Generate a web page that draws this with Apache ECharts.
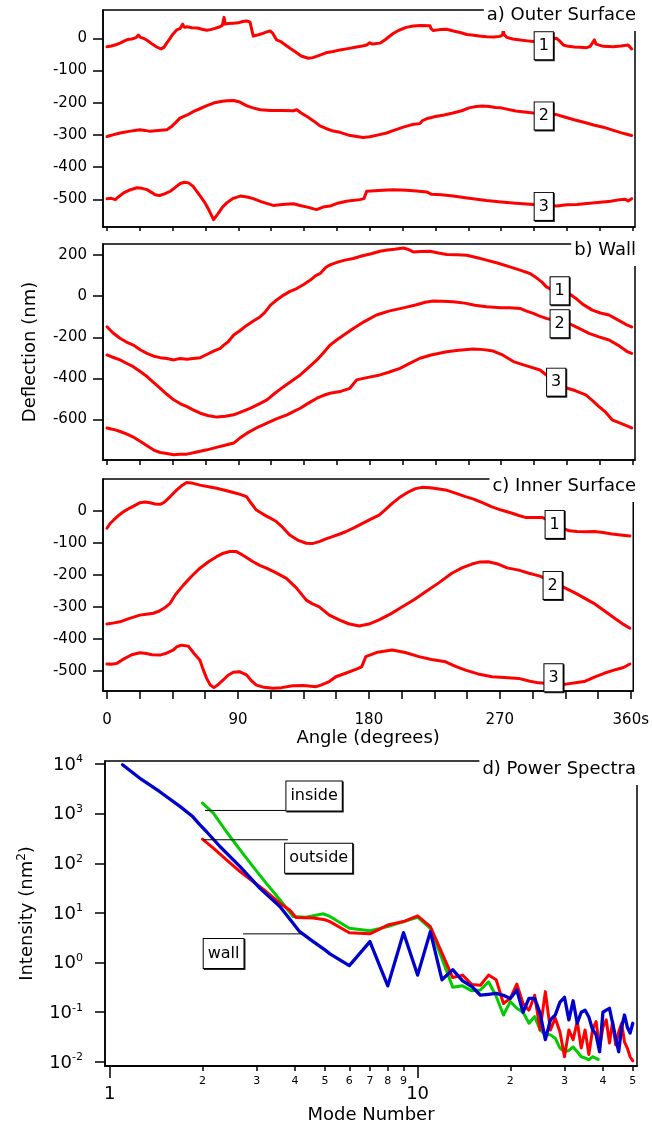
<!DOCTYPE html>
<html><head><meta charset="utf-8">
<script src="https://cdn.jsdelivr.net/npm/echarts@6/dist/echarts.min.js"></script>
<style>html,body{margin:0;padding:0;background:#fff}#c{width:652px;height:1130px}</style>
</head><body><div id="c"></div>
<script>
// ---------- Panel a) Outer Surface : [angle (deg), deflection (nm)] ----------
const outer1 = [[0,-26],[3,-24],[6,-20],[9,-15],[12,-8],[14,-4],[17,-2],[20,2],[21.4,10],[23,3],[25,0],[27.4,-6],[31,-18],[34,-27],[37,-33],[39,-28],[41,-14],[43.2,0],[45,12],[47.7,26],[50,30],[51.8,44],[53,34],[55,36],[58,33],[62,32],[65,28],[68.3,25],[71,27],[74,31],[77.4,36],[79,40],[80.2,65],[81,44],[83,46],[86.5,47],[90,48],[93,52],[95.7,54],[98,50],[99,30],[100.2,7],[103,10],[106,14],[109,19],[111.7,23],[113.5,16],[116.2,-5],[119,-10],[122,-20],[125.4,-31],[129,-42],[133,-55],[137.9,-62],[141,-60],[145.9,-52],[150,-45],[155,-41],[159.6,-36],[165,-32],[170,-28],[174,-25],[177.9,-21],[180,-14],[182,-18],[187,-15],[191,-3],[196,15],[200,25],[205,34],[209.8,38],[215,40],[221.3,39],[222,30],[223.6,24],[228,27],[232.7,28],[238,22],[242,18],[246.4,12],[250,10],[255,7],[260,5],[265,4],[269,6],[271,10],[271.5,26],[272,12],[273.8,3],[278,-2],[283,-5],[288,-8],[292,-10],[296,-7],[300,-4],[304,-2],[308,0],[310,-8],[312.6,-21],[316,-25],[320,-27],[324,-28],[328.6,-29],[331,-25],[333.9,-5],[335,-18],[335.5,-24],[340,-25],[346.9,-26],[352,-24],[357,-21],[357.5,-27],[359.4,-33]];
const outer2 = [[0,-305],[4,-300],[8.9,-294],[15,-289],[22.6,-284],[26,-286],[29.5,-289],[35,-286],[41,-284],[44,-275],[47,-262],[50,-248],[55,-238],[59.4,-227],[64,-218],[68,-210],[73,-201],[78,-196],[82,-194],[86.8,-193],[91,-198],[95.9,-210],[100,-216],[105,-222],[112,-224],[120,-224],[127.8,-225],[130,-222],[133,-232],[137,-243],[142,-258],[145.9,-272],[150,-280],[155,-288],[159.6,-292],[165,-300],[170,-304],[175.5,-308],[180,-306],[186,-300],[191.5,-294],[197,-285],[203,-276],[209,-268],[214.3,-265],[216,-256],[218.8,-250],[225,-243],[231,-238],[237,-232],[243,-225],[248,-216],[253,-212],[257,-210],[262,-212],[266,-215],[270,-216],[273.8,-220],[280,-226],[286,-229],[292,-232],[300,-234],[308,-237],[314,-245],[320,-253],[328.6,-263],[334,-270],[340,-276],[346.9,-286],[352,-293],[356,-298],[359.4,-302]];
const outer3 = [[0,-498],[3,-497],[5.7,-501],[8,-492],[11.4,-480],[15,-472],[20.5,-464],[24,-466],[27.4,-470],[31,-480],[33,-486],[36,-488],[39,-484],[43.4,-475],[47,-462],[50.2,-451],[53,-447],[55.9,-449],[59,-460],[61,-472],[63.9,-490],[67,-510],[70,-535],[73,-563],[76,-545],[79,-525],[82,-511],[86,-498],[91.2,-490],[96,-493],[100.2,-498],[106,-508],[113.9,-519],[120,-516],[127.6,-514],[133,-520],[138,-525],[143.5,-532],[148,-524],[152.8,-521],[158,-512],[164,-506],[168,-504],[173.3,-501],[176,-498],[177.9,-475],[186,-473],[196,-470],[205,-472],[212,-474],[219,-477],[222,-484],[229,-486],[237,-490],[248,-497],[260,-504],[270,-508],[280,-512],[292,-516],[300,-518],[308,-521],[315,-517],[322,-516],[328.6,-513],[338,-509],[345,-506],[351.4,-501],[355,-500],[357,-505],[359.4,-498]];

// ---------- Panel b) Wall ----------
const wall1 = [[0,-149],[4,-178],[8.9,-205],[13,-222],[18,-238],[23,-262],[27.4,-278],[32,-292],[36.5,-299],[41,-303],[45.7,-310],[50,-303],[54.8,-307],[59,-303],[63.9,-299],[68,-285],[73,-267],[77.6,-254],[80,-238],[83,-222],[86.8,-189],[91,-168],[95.9,-141],[100,-122],[105,-100],[108,-80],[112,-44],[116,-20],[121,5],[125,22],[130,37],[135,58],[139.3,78],[143,100],[146,110],[150,140],[152.8,152],[158,165],[163,175],[168.7,183],[175,196],[181,206],[187,218],[192,224],[197,228],[203,234],[206,228],[209.8,215],[215,217],[221.3,218],[227,210],[232.7,202],[240,201],[246.4,199],[253,188],[260,175],[268,160],[276,142],[283,126],[289.7,110],[294,90],[298,68],[301,45],[305,30],[310,22],[316.5,13],[321,-10],[326,-40],[332.5,-68],[338,-82],[343.9,-92],[349,-112],[355.3,-137],[359.4,-150]];
const wall2 = [[0,-286],[4,-297],[8.9,-310],[13,-325],[18,-343],[23,-368],[27.4,-391],[32,-420],[36.5,-448],[41,-477],[45.7,-504],[50,-522],[54.8,-537],[59,-553],[63.9,-569],[69,-580],[75.3,-588],[81,-584],[86.8,-577],[92,-562],[98,-545],[104,-525],[109.6,-504],[115,-472],[121,-440],[127,-410],[132.4,-383],[138,-347],[143.8,-310],[148,-278],[152.8,-238],[157.3,-213],[163,-185],[168.7,-157],[176,-125],[184.6,-92],[193,-73],[203,-57],[212,-42],[218,-30],[223.6,-24],[230,-25],[237,-27],[245,-34],[252,-44],[260,-52],[270,-56],[276,-57],[283,-60],[287,-72],[292,-84],[296,-96],[301,-108],[306,-118],[311,-126],[316.5,-133],[322,-152],[330.2,-181],[337,-198],[343.9,-213],[350,-238],[356,-268],[359.4,-278]];
const wall3 = [[0,-641],[3,-646],[5.7,-650],[9,-658],[13.7,-671],[18,-685],[22.9,-707],[28,-730],[32,-748],[36.5,-760],[41,-765],[45.7,-771],[50,-768],[54.8,-768],[60,-760],[68.5,-747],[75,-735],[82.2,-722],[86.8,-714],[91,-690],[95.9,-666],[102,-642],[109.6,-617],[116,-597],[123.3,-577],[128,-560],[132.4,-545],[138,-520],[143.8,-496],[148,-483],[152.8,-472],[159.6,-464],[166.4,-448],[171,-407],[178,-396],[187,-383],[193,-370],[200.7,-351],[207,-328],[214.4,-302],[222,-286],[232.7,-270],[241,-263],[251,-257],[258,-260],[264.6,-267],[271,-286],[278.4,-318],[287,-338],[296.6,-359],[303,-395],[310,-430],[315.4,-448],[321,-460],[328,-480],[333,-510],[337,-537],[341,-560],[346,-601],[352,-618],[357.5,-634],[359.4,-640]];

// ---------- Panel c) Inner Surface ----------
const inner1 = [[0,-54],[2,-40],[4.6,-28],[8,-14],[11.4,-2],[16,10],[22.8,26],[26,28],[29.7,26],[33,22],[36.5,21],[39,26],[41,34],[44,48],[48,66],[51,78],[54.8,89],[58,88],[63.9,81],[69,77],[75.3,71],[81,65],[86.8,58],[91,53],[95.9,45],[99,25],[102.7,3],[106,-6],[109.6,-16],[113,-24],[116.4,-33],[120,-48],[125.6,-75],[131,-91],[137,-101],[141,-102],[145.9,-96],[150,-88],[155,-80],[160,-72],[164,-65],[170,-52],[176,-38],[181,-26],[187,-13],[191,3],[196,24],[201,42],[207.4,60],[212,70],[216.6,74],[222,73],[227,70],[232.7,66],[240,55],[246.4,45],[252,37],[258,26],[264.6,13],[271,3],[278.4,-7],[283,-14],[287.5,-20],[293,-20],[299,-20],[304,-30],[310,-48],[317.8,-62],[323,-64],[329,-65],[335,-64],[341,-67],[347,-72],[353,-75],[359.4,-78]];
const inner2 = [[0,-354],[4,-351],[8.9,-347],[15,-337],[22.6,-326],[27,-323],[31.9,-320],[36,-313],[40,-302],[43.4,-289],[47,-262],[52.5,-232],[58,-205],[63.9,-179],[70,-158],[75.3,-143],[80,-132],[84.5,-127],[89,-127],[94,-140],[100.4,-159],[105,-170],[109.6,-179],[116,-193],[123.3,-211],[130,-240],[137,-279],[141,-290],[145.9,-300],[152.8,-326],[159.6,-341],[166,-353],[173.3,-360],[180,-354],[187,-341],[195,-322],[203,-300],[211,-278],[219,-253],[228,-225],[237,-195],[244,-178],[250.8,-166],[256,-160],[262,-159],[268,-165],[275,-178],[283,-185],[290,-195],[297.6,-204],[306,-222],[315.4,-242],[322,-257],[334.6,-289],[342,-313],[350.6,-341],[355,-355],[359.4,-367]];
const inner3 = [[0,-479],[3,-480],[6.8,-477],[12,-462],[17,-450],[22.6,-444],[27,-446],[31,-450],[36.5,-451],[41,-445],[45.7,-435],[48,-425],[51.3,-420],[55.9,-423],[60,-447],[63.9,-467],[66,-495],[68.5,-524],[71,-545],[73.5,-553],[76,-545],[79.9,-529],[83,-515],[86.8,-505],[91,-503],[95.9,-513],[99,-530],[102.7,-545],[108,-552],[114,-555],[120,-553],[127.6,-547],[135,-546],[143.8,-550],[147,-545],[152.8,-534],[157.3,-519],[164,-508],[171,-496],[175,-488],[177.9,-456],[186,-442],[196,-435],[205,-443],[214.4,-456],[223,-465],[232.7,-472],[240,-487],[246.4,-498],[255,-510],[264.6,-519],[273,-521],[283,-524],[290,-532],[296.6,-538],[306,-541],[315.4,-542],[322,-538],[328,-534],[335,-520],[341.7,-508],[350,-496],[355,-490],[359.4,-479]];

// ---------- Panel d) Power Spectra : [mode number, intensity (nm^2)] ----------
const specWall = [[1.1,9680],[1.25,5220],[1.45,2800],[1.69,1400],[1.85,900],[1.96,600],[2.06,437],[2.28,218],[2.65,86],[3.07,31.6],[3.57,13.5],[4.14,4.2],[4.58,2.65],[5,1.8],[5.19,1.5],[6,0.87],[7,2.65],[8,0.34],[9,4.0],[10,0.56],[11,4.2],[12,0.45],[13,0.72],[14,0.43],[15,0.33],[16,0.22],[17,0.23],[18,0.24],[19,0.22],[20,0.19],[21,0.28],[22,0.1],[23,0.19],[24,0.19],[25,0.095],[26,0.028],[27,0.07],[28,0.088],[29,0.16],[30,0.2],[31,0.07],[32,0.17],[33,0.06],[34,0.1],[35,0.11],[36,0.08],[37,0.045],[38,0.035],[39,0.016],[40,0.1],[41,0.11],[42,0.12],[43,0.06],[44,0.03],[45,0.016],[46,0.05],[47,0.088],[48,0.05],[49,0.038],[50,0.06]];
const specOutside = [[2,307],[2.17,202],[2.39,118],[2.65,68],[2.92,43],[3.22,27],[3.57,15.7],[3.84,11.5],[4.03,8.1],[4.58,7.9],[5,7.3],[5.19,6.7],[6,4.0],[7,3.8],[8,5.7],[9,6.7],[10,8.7],[11,5.3],[12,1.55],[13,0.5],[14,0.56],[15,0.36],[16,0.35],[17,0.56],[18,0.45],[19,0.15],[20,0.19],[21,0.37],[22,0.15],[23,0.11],[24,0.22],[25,0.044],[26,0.26],[27,0.044],[28,0.076],[29,0.04],[30,0.0127],[31,0.044],[32,0.028],[33,0.065],[34,0.019],[35,0.044],[36,0.014],[37,0.044],[38,0.065],[39,0.019],[40,0.05],[41,0.07],[42,0.024],[43,0.065],[44,0.022],[45,0.04],[46,0.06],[47,0.025],[48,0.019],[49,0.0127],[50,0.0105]];
const specInside = [[2,1637],[2.17,1028],[2.39,437],[2.65,187],[2.92,86],[3.22,40],[3.57,18.4],[3.94,8.5],[4.34,8.2],[4.94,9.6],[5.19,8.5],[6,4.9],[7,4.4],[8,5.3],[9,6.7],[10,8.2],[11,4.9],[12,1.2],[13,0.32],[14,0.34],[15,0.27],[16,0.28],[17,0.41],[18,0.21],[19,0.088],[20,0.164],[21,0.12],[22,0.1],[23,0.06],[24,0.082],[25,0.044],[26,0.035],[27,0.035],[28,0.03],[29,0.019],[30,0.016],[31,0.017],[32,0.02],[33,0.016],[34,0.0127],[35,0.012],[36,0.011],[37,0.0127],[38,0.0118],[38.6,0.0112]];

// ---------- ticks and labels ----------
const angleTicks = [0,22.5,45,67.5,90,112.5,135,157.5,180,202.5,225,247.5,270,292.5,315,337.5,360];
const angleLabels = [0,90,180,270,360];
const yTicksA = [0,-100,-200,-300,-400,-500];
const yTicksB = [200,0,-200,-400,-600];
const yTicksC = [0,-100,-200,-300,-400,-500];
const modeMajor = [1,10];
const modeMinor = [2,3,4,5,6,7,8,9,20,30,40,50];
const intensityTicks = [0.01,0.1,1,10,100,1000,10000];

// ---------- annotations (data coordinates) ----------
const boxesA = [[299.2,-23,'1'],[299.2,-241,'2'],[299.2,-522,'3']];
const boxesB = [[310.1,26,'1'],[310.1,-134,'2'],[307.7,-418,'3']];
const boxesC = [[307.7,-42,'1'],[306.3,-233,'2'],[306.9,-522,'3']];
const specBoxes = [[4.61,2264,'inside'],[4.77,127,'outside'],[2.343,1.52,'wall']];
const specLeaders = [[[2.04,1161],[3.73,1161]],[[2.01,298],[3.79,298]],[[2.71,3.79],[4.2,3.79]]];

const FONT = 'DejaVu Sans';
const RED = '#ff0000';

function curve(data, gi, color, width) {
  return { type:'line', xAxisIndex:gi, yAxisIndex:gi, data:data, showSymbol:false, symbol:'none',
    lineStyle:{color:color||RED, width:width||3, cap:'round', join:'round'}, z:2, silent:true };
}
function boxes(list, xi, yi, fs, pad) {
  return { type:'scatter', xAxisIndex:xi, yAxisIndex:yi, symbolSize:1, z:6, silent:true,
    itemStyle:{color:'rgba(0,0,0,0)', opacity:1},
    data:list.map(b => ({name:b[2], value:[b[0], b[1]]})),
    label:{show:true, position:'inside', formatter:'{b}', fontFamily:FONT, fontSize:fs, color:'#000', opacity:1,
      backgroundColor:'#ffffff', borderColor:'#000', borderWidth:1, padding:pad, lineHeight:fs+3,
      shadowColor:'rgba(0,0,0,0.85)', shadowOffsetX:1, shadowOffsetY:1, shadowBlur:0} };
}
function angleAxis(gi, labels, tickLen) {
  return { type:'value', gridIndex:gi, min:-2.74, max:361.7, position:'bottom',
    axisLine:{show:true, onZero:false, lineStyle:{color:'#000', width:1.5}},
    axisTick:{show:true, inside:false, length:tickLen, customValues:angleTicks, lineStyle:{color:'#000', width:1.5}},
    axisLabel:{show:labels, customValues:angleLabels, margin:22, fontFamily:FONT, fontSize:15, color:'#000',
      formatter: v => (v === 360 ? '360s' : String(v))},
    splitLine:{show:false},
    name: labels ? 'Angle (degrees)' : '', nameLocation:'middle', nameGap:36,
    nameTextStyle:{fontFamily:FONT, fontSize:18, color:'#000'} };
}
function valueAxis(gi, min, max, ticks, name) {
  return { type:'value', gridIndex:gi, min:min, max:max,
    axisLine:{show:true, onZero:false, lineStyle:{color:'#000', width:1.5}},
    axisTick:{show:true, length:10, customValues:ticks, lineStyle:{color:'#000', width:1.5}},
    axisLabel:{customValues:ticks, margin:16, fontFamily:FONT, fontSize:15, color:'#000'},
    splitLine:{show:false},
    name:name||'', nameLocation:'middle', nameRotate:90, nameGap:64,
    nameTextStyle:{fontFamily:FONT, fontSize:18, color:'#000'} };
}
function titleBox(text, top) {
  return { text:text, right:13, top:top, backgroundColor:'#fff', padding:[3,3,5,3], z:10,
    textStyle:{fontFamily:FONT, fontSize:18, fontWeight:'normal', color:'#000', lineHeight:21} };
}
function leader(seg) {
  return { type:'line', xAxisIndex:3, yAxisIndex:3, data:seg, showSymbol:false, symbol:'none', z:4, silent:true,
    lineStyle:{color:'#000', width:1} };
}

const grids = [
  {left:103, top:10, width:532, height:217},
  {left:103, top:244, width:532, height:216},
  {left:103, top:479, width:532, height:212},
  {left:105, top:761, width:532, height:305}
].map(g => Object.assign(g, {show:true, borderColor:'#000', borderWidth:1.5, backgroundColor:'transparent', containLabel:false}));

const logX = (ticks, tickLen, labels, fs, margin) => ({
  type:'log', logBase:10, gridIndex:3, min:0.965, max:51.6, position:'bottom',
  axisLine:{show:true, onZero:false, lineStyle:{color:'#000', width:1.5}},
  axisTick:{show:true, length:tickLen, customValues:ticks, lineStyle:{color:'#000', width:1.5}},
  axisLabel:{show:true, customValues:labels, margin:margin, fontFamily:FONT, fontSize:fs, color:'#000',
    formatter: v => { const r = Math.round(v); return r >= 20 ? String(r / 10) : String(r); }},
  splitLine:{show:false}, minorTick:{show:false}
});

const xAxes = [angleAxis(0,false,4), angleAxis(1,false,5), angleAxis(2,true,8)];
const xMajor = logX(modeMajor, 12, modeMajor, 18, 19);
xMajor.name = 'Mode Number'; xMajor.nameLocation = 'middle'; xMajor.nameGap = 40;
xMajor.nameTextStyle = {fontFamily:FONT, fontSize:18, color:'#000'};
const xMinor = logX(modeMinor, 5, modeMinor, 11, 10);
xAxes.push(xMajor, xMinor);

const yAxes = [
  valueAxis(0, -586, 87.9, yTicksA),
  valueAxis(1, -796.4, 253.3, yTicksB, 'Deflection (nm)'),
  valueAxis(2, -563.5, 100.2, yTicksC),
  { type:'log', logBase:10, gridIndex:3, min:0.00826, max:11500,
    axisLine:{show:true, onZero:false, lineStyle:{color:'#000', width:1.5}},
    axisTick:{show:true, length:10, customValues:intensityTicks, lineStyle:{color:'#000', width:1.5}},
    axisLabel:{customValues:intensityTicks, margin:22, color:'#000',
      formatter: v => '{b|10}{s|' + Math.round(Math.log10(v)) + '}',
      rich:{ b:{fontFamily:FONT, fontSize:18, lineHeight:20, verticalAlign:'bottom', color:'#000'},
             s:{fontFamily:FONT, fontSize:11, lineHeight:11, verticalAlign:'top', padding:[0,0,10,0], color:'#000'} } },
    splitLine:{show:false}, minorTick:{show:false},
    name:'{a|Intensity (nm}{s|2}{a|)}', nameLocation:'middle', nameRotate:90, nameGap:66,
    nameTextStyle:{ rich:{ a:{fontFamily:FONT, fontSize:18, lineHeight:20, verticalAlign:'bottom', color:'#000'},
                           s:{fontFamily:FONT, fontSize:12, lineHeight:12, verticalAlign:'top', padding:[0,0,10,0], color:'#000'} } } }
];

const series = [
  curve(outer1,0), curve(outer2,0), curve(outer3,0),
  curve(wall1,1), curve(wall2,1), curve(wall3,1),
  curve(inner1,2), curve(inner2,2), curve(inner3,2),
  curve(specInside,3,'#00cc00',3), curve(specOutside,3,RED,3), curve(specWall,3,'#0000cc',3.3),
  boxes(boxesA,0,0,16,[4,4,4,4]), boxes(boxesB,1,1,16,[4,4,4,4]), boxes(boxesC,2,2,16,[4,4,4,4]),
  boxes(specBoxes,3,3,16,[5,4,5,4])
].concat(specLeaders.map(leader));

const chart = echarts.init(document.getElementById('c'), null, {renderer:'canvas'});
chart.setOption({
  animation:false,
  backgroundColor:'#fff',
  title:[titleBox('a) Outer Surface',2), titleBox('b) Wall',237), titleBox('c) Inner Surface',473), titleBox('d) Power Spectra',756)],
  grid:grids, xAxis:xAxes, yAxis:yAxes, series:series
});
</script></body></html>
